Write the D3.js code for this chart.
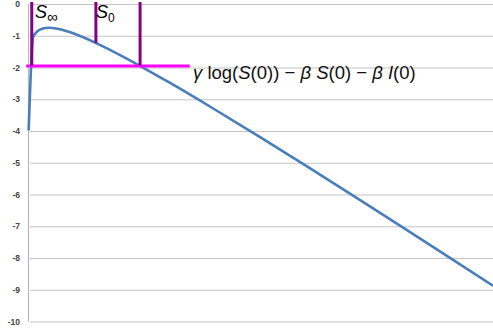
<!DOCTYPE html>
<html>
<head>
<meta charset="utf-8">
<script src="https://cdn.jsdelivr.net/npm/d3@7"></script>
<style>
  html, body { margin: 0; padding: 0; background: #fff; }
  svg { display: block; }
</style>
</head>
<body>
<svg id="chart" width="493" height="329"></svg>
<script>
// Sampled curve  y(S) = γ log S − β S  (arbitrary S units)
const sValues = [0.015, 0.11, 0.2, 0.3, 0.45, 0.6, 0.75, 1.0, 1.5, 2.0, 2.5, 3.0,
                 4.0, 5.0, 6.0, 7.0, 8.0, 9.0, 10.0];
const yValues = [-3.98, -1.04, -0.864, -0.782, -0.750, -0.771, -0.820, -0.940, -1.257, -1.626, -2.024, -2.440,
                 -3.307, -4.203, -5.117, -6.044, -6.981, -7.924, -8.872];

// Y axis ticks
const yTicks = [0, -1, -2, -3, -4, -5, -6, -7, -8, -9, -10];
const yTickLabels = ["0", "-1", "-2", "-3", "-4", "-5", "-6", "-7", "-8", "-9", "-10"];

// Marker lines: S∞, S0 and the level crossing; depth of each drop and the horizontal level
const markerS = [0.081, 1.46, 2.41];
const markerBottom = [-1.95, -1.225, -1.95];
const levelValue = -1.95;
const levelSpan = [-0.04, 3.48];

const svg = d3.select("#chart");
const x = d3.scaleLinear().domain([0, 10]).range([28, 493]);
const y = d3.scaleLinear().domain([-10, 0]).range([321.5, 4]);

// Gridlines
svg.append("g")
  .attr("transform", "translate(28,0)")
  .call(d3.axisLeft(y).tickValues(yTicks).tickSize(-467).tickFormat(""))
  .call(g => g.select(".domain").remove())
  .call(g => g.selectAll(".tick line")
      .attr("x1", 2).attr("stroke", "#c4c4c4").attr("stroke-width", 1.2));

// Vertical axis line
svg.append("line")
  .attr("x1", 28.5).attr("x2", 28.5)
  .attr("y1", y(0)).attr("y2", y(-10))
  .attr("stroke", "#b8b8b8").attr("stroke-width", 1.2);

// Tick labels
svg.append("g")
  .attr("transform", "translate(20,0)")
  .call(d3.axisLeft(y).tickValues(yTicks).tickSize(0)
      .tickFormat((d, i) => yTickLabels[i]))
  .call(g => g.select(".domain").remove())
  .call(g => g.selectAll(".tick text")
      .attr("x", 0)
      .attr("font-family", "Liberation Sans, Arial, sans-serif")
      .attr("font-size", 8.5)
      .attr("font-weight", "bold")
      .attr("fill", "#444"));

// Curve
const pts = sValues.map((s, i) => [s, yValues[i]]);
svg.append("path")
  .datum(pts)
  .attr("fill", "none")
  .attr("stroke", "#4a7ebb")
  .attr("stroke-width", 2.6)
  .attr("stroke-linejoin", "round")
  .attr("d", d3.line().x(d => x(d[0])).y(d => y(d[1])).curve(d3.curveMonotoneX));

// Horizontal level line
svg.append("line")
  .attr("x1", x(levelSpan[0])).attr("x2", x(levelSpan[1]))
  .attr("y1", y(levelValue)).attr("y2", y(levelValue))
  .attr("stroke", "#ff00ff").attr("stroke-width", 3);

// Vertical marker lines
svg.selectAll("line.marker")
  .data(markerS)
  .enter().append("line")
  .attr("class", "marker")
  .attr("x1", d => x(d)).attr("x2", d => x(d))
  .attr("y1", y(0) - 2)
  .attr("y2", (d, i) => y(markerBottom[i]))
  .attr("stroke", "#850085").attr("stroke-width", 3);

// Labels
const font = "Liberation Sans, Arial, Helvetica, sans-serif";
const t1 = svg.append("text").attr("x", 35).attr("y", 18)
  .attr("font-family", font).attr("font-size", 18).attr("fill", "#000");
t1.append("tspan").attr("font-style", "italic").text("S");
t1.append("tspan").attr("font-size", 15).attr("dy", 4).text("∞");

const t2 = svg.append("text").attr("x", 96).attr("y", 18)
  .attr("font-family", font).attr("font-size", 18).attr("fill", "#000");
t2.append("tspan").attr("font-style", "italic").text("S");
t2.append("tspan").attr("font-size", 12).attr("dy", 4).text("0");

const f = svg.append("text").attr("x", 193).attr("y", 78.5)
  .attr("font-family", font).attr("font-size", 18.5).attr("fill", "#111");
[["γ", true], [" log(", false], ["S", true], ["(0)) − ", false], ["β", true], [" ", false],
 ["S", true], ["(0) − ", false], ["β", true], [" ", false], ["I", true], ["(0)", false]]
  .forEach(([txt, it]) => f.append("tspan").attr("font-style", it ? "italic" : "normal").text(txt));
</script>
</body>
</html>
